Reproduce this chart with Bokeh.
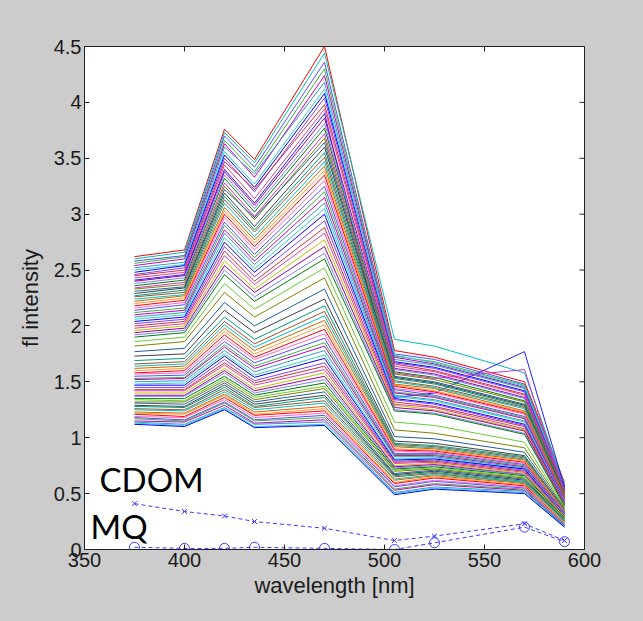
import math
from bokeh.plotting import figure
from bokeh.models import FixedTicker, CustomJSTickFormatter, Range1d, Label
from bokeh.embed import file_html
from bokeh.resources import INLINE

# ---------------- data ----------------
wavelength = [375, 400, 420, 435, 470, 505, 525, 570, 590]

cdom_cross = [0.41, 0.34, 0.30, 0.25, 0.19, 0.08, 0.12, 0.23, 0.08]
mq_circle = [0.02, 0.01, 0.01, 0.02, 0.01, 0.00, 0.06, 0.20, 0.07]

spectra = [
    [2.62, 2.68, 3.76, 3.49, 4.50, 1.78, 1.72, 1.50, 0.60],
    [2.60, 2.66, 3.73, 3.46, 4.44, 1.88, 1.82, 1.58, 0.58],
    [2.58, 2.63, 3.70, 3.42, 4.36, 1.75, 1.70, 1.48, 0.57],
    [2.56, 2.62, 3.66, 3.38, 4.30, 1.73, 1.68, 1.47, 0.57],
    [2.54, 2.60, 3.63, 3.33, 4.24, 1.72, 1.66, 1.45, 0.56],
    [2.52, 2.57, 3.60, 3.36, 4.18, 1.70, 1.65, 1.44, 0.55],
    [2.50, 2.55, 3.56, 3.27, 4.12, 1.74, 1.67, 1.46, 0.55],
    [2.48, 2.54, 3.53, 3.24, 4.08, 1.68, 1.63, 1.42, 0.54],
    [2.46, 2.52, 3.50, 3.20, 4.04, 1.67, 1.62, 1.41, 0.54],
    [2.45, 2.50, 3.47, 3.22, 3.98, 1.66, 1.60, 1.39, 0.53],
    [2.43, 2.48, 3.44, 3.14, 3.94, 1.64, 1.59, 1.38, 0.53],
    [2.41, 2.46, 3.40, 3.10, 3.90, 1.36, 1.40, 1.77, 0.56],
    [2.40, 2.45, 3.38, 3.08, 3.86, 1.62, 1.57, 1.36, 0.52],
    [2.38, 2.43, 3.35, 3.05, 3.81, 1.61, 1.56, 1.35, 0.51],
    [2.36, 2.41, 3.32, 3.02, 3.77, 1.59, 1.54, 1.33, 0.51],
    [2.34, 2.39, 3.28, 2.98, 3.72, 1.58, 1.53, 1.61, 0.50],
    [2.33, 2.37, 3.25, 2.95, 3.68, 1.57, 1.52, 1.32, 0.50],
    [2.31, 2.35, 3.22, 2.97, 3.64, 1.55, 1.50, 1.30, 0.49],
    [2.29, 2.34, 3.19, 2.89, 3.60, 1.54, 1.49, 1.29, 0.49],
    [2.27, 2.32, 3.16, 2.86, 3.55, 1.53, 1.48, 1.28, 0.48],
    [2.26, 2.30, 3.13, 2.84, 3.51, 1.51, 1.46, 1.27, 0.48],
    [2.24, 2.28, 3.10, 2.80, 3.47, 1.50, 1.45, 1.26, 0.47],
    [2.22, 2.27, 3.06, 2.77, 3.43, 1.48, 1.44, 1.24, 0.47],
    [2.20, 2.25, 3.03, 2.74, 3.39, 1.47, 1.42, 1.23, 0.46],
    [2.18, 2.23, 3.00, 2.71, 3.35, 1.46, 1.41, 1.22, 0.46],
    [2.16, 2.21, 2.97, 2.68, 3.30, 1.44, 1.40, 1.21, 0.45],
    [2.14, 2.19, 2.93, 2.64, 3.25, 1.43, 1.38, 1.19, 0.45],
    [2.12, 2.16, 2.90, 2.61, 3.20, 1.41, 1.37, 1.18, 0.44],
    [2.10, 2.14, 2.86, 2.58, 3.15, 1.40, 1.36, 1.17, 0.44],
    [2.08, 2.12, 2.83, 2.55, 3.10, 1.38, 1.34, 1.15, 0.43],
    [2.06, 2.10, 2.79, 2.51, 3.05, 1.37, 1.33, 1.14, 0.43],
    [2.04, 2.08, 2.75, 2.48, 3.00, 1.35, 1.31, 1.12, 0.42],
    [2.02, 2.06, 2.71, 2.44, 2.94, 1.34, 1.30, 1.11, 0.42],
    [2.00, 2.04, 2.67, 2.40, 2.88, 1.32, 1.28, 1.10, 0.41],
    [1.98, 2.02, 2.63, 2.37, 2.83, 1.30, 1.27, 1.08, 0.41],
    [1.96, 2.00, 2.58, 2.33, 2.77, 1.29, 1.25, 1.07, 0.40],
    [1.94, 1.98, 2.54, 2.30, 2.71, 1.27, 1.24, 1.06, 0.40],
    [1.92, 1.96, 2.50, 2.26, 2.65, 1.25, 1.22, 1.04, 0.39],
    [1.90, 1.94, 2.46, 2.22, 2.60, 1.24, 1.21, 1.03, 0.39],
    [1.86, 1.90, 2.38, 2.15, 2.52, 1.14, 1.11, 0.96, 0.38],
    [1.82, 1.86, 2.30, 2.08, 2.43, 1.07, 1.04, 0.91, 0.37],
    [1.77, 1.80, 2.21, 2.00, 2.33, 1.01, 0.99, 0.87, 0.36],
    [1.73, 1.75, 2.14, 1.94, 2.24, 0.97, 0.95, 0.84, 0.35],
    [1.69, 1.71, 2.08, 1.88, 2.18, 0.95, 0.93, 0.83, 0.35],
    [1.66, 1.68, 2.04, 1.84, 2.13, 0.94, 0.92, 0.82, 0.35],
    [1.64, 1.66, 2.01, 1.81, 2.09, 0.93, 0.91, 0.81, 0.34],
    [1.62, 1.64, 1.98, 1.78, 2.05, 0.92, 0.90, 0.80, 0.34],
    [1.60, 1.62, 1.95, 1.75, 2.01, 0.90, 0.89, 0.79, 0.34],
    [1.58, 1.60, 1.92, 1.72, 1.97, 0.89, 0.88, 0.78, 0.33],
    [1.57, 1.58, 1.89, 1.70, 1.93, 0.88, 0.87, 0.77, 0.33],
    [1.55, 1.56, 1.86, 1.67, 1.89, 0.86, 0.86, 0.76, 0.33],
    [1.53, 1.54, 1.83, 1.64, 1.85, 0.85, 0.85, 0.75, 0.32],
    [1.52, 1.53, 1.81, 1.62, 1.82, 0.84, 0.84, 0.74, 0.32],
    [1.50, 1.51, 1.78, 1.59, 1.78, 0.83, 0.83, 0.73, 0.31],
    [1.48, 1.49, 1.75, 1.56, 1.74, 0.81, 0.82, 0.72, 0.31],
    [1.47, 1.47, 1.73, 1.54, 1.71, 0.80, 0.81, 0.72, 0.30],
    [1.45, 1.45, 1.70, 1.51, 1.67, 0.79, 0.80, 0.71, 0.30],
    [1.43, 1.43, 1.67, 1.49, 1.64, 0.78, 0.79, 0.70, 0.30],
    [1.42, 1.42, 1.65, 1.47, 1.61, 0.77, 0.78, 0.69, 0.29],
    [1.40, 1.40, 1.62, 1.44, 1.58, 0.75, 0.77, 0.68, 0.29],
    [1.38, 1.38, 1.60, 1.42, 1.55, 0.74, 0.76, 0.67, 0.28],
    [1.37, 1.37, 1.58, 1.40, 1.52, 0.73, 0.75, 0.67, 0.28],
    [1.35, 1.35, 1.55, 1.38, 1.49, 0.72, 0.74, 0.66, 0.28],
    [1.34, 1.33, 1.53, 1.36, 1.46, 0.71, 0.73, 0.65, 0.27],
    [1.32, 1.32, 1.51, 1.34, 1.44, 0.70, 0.72, 0.64, 0.27],
    [1.31, 1.30, 1.49, 1.32, 1.41, 0.68, 0.71, 0.63, 0.26],
    [1.29, 1.28, 1.47, 1.30, 1.38, 0.67, 0.70, 0.62, 0.26],
    [1.28, 1.27, 1.45, 1.28, 1.36, 0.66, 0.69, 0.61, 0.26],
    [1.26, 1.25, 1.43, 1.27, 1.33, 0.65, 0.68, 0.60, 0.25],
    [1.25, 1.24, 1.41, 1.25, 1.31, 0.63, 0.67, 0.60, 0.25],
    [1.23, 1.22, 1.39, 1.23, 1.28, 0.62, 0.66, 0.59, 0.24],
    [1.22, 1.21, 1.38, 1.21, 1.26, 0.60, 0.65, 0.58, 0.24],
    [1.21, 1.19, 1.36, 1.20, 1.24, 0.59, 0.64, 0.57, 0.23],
    [1.19, 1.18, 1.34, 1.18, 1.22, 0.57, 0.62, 0.56, 0.23],
    [1.18, 1.16, 1.32, 1.16, 1.20, 0.56, 0.61, 0.55, 0.22],
    [1.17, 1.15, 1.31, 1.15, 1.18, 0.54, 0.59, 0.54, 0.22],
    [1.15, 1.14, 1.29, 1.13, 1.16, 0.53, 0.58, 0.53, 0.21],
    [1.14, 1.12, 1.27, 1.12, 1.14, 0.51, 0.56, 0.52, 0.21],
    [1.13, 1.11, 1.26, 1.10, 1.12, 0.50, 0.55, 0.51, 0.20],
    [1.12, 1.10, 1.25, 1.09, 1.11, 0.49, 0.54, 0.50, 0.20],
]

x_ticks = [350, 400, 450, 500, 550, 600]
y_ticks = [0, 0.5, 1, 1.5, 2, 2.5, 3, 3.5, 4, 4.5]

# ---------------- style ----------------
palette = ["#ff0000", "#0000ff", "#008000", "#00bfbf", "#bf00bf", "#bfbf00",
           "#404040", "#ff66cc", "#8040ff", "#66cc33", "#cc6600", "#3399cc",
           "#990099", "#00a080", "#5050ff", "#cc3333", "#808000", "#ff9933",
           "#33cccc", "#7f7fff", "#a0522d", "#40b040", "#e040a0", "#2060a0"]
colors = [palette[(i * 7) % len(palette)] for i in range(len(spectra))]
colors[1] = "#00bfbf"    # cyan line on top at 505-525
colors[11] = "#2020ff"   # blue line peaking at 570
colors[15] = "#cc33cc"   # magenta line peaking at 570

X0, X1, Y0, Y1 = 350, 600, 0, 4.5
p = figure(width=627, height=605, output_backend="svg", toolbar_location=None,
           x_range=Range1d(X0, X1), y_range=Range1d(Y0, Y1),
           min_border_left=84, min_border_right=43, min_border_top=46,
           min_border_bottom=56, background_fill_color="white",
           border_fill_color="#cccccc", outline_line_color="#222222")
p.grid.visible = False

p.multi_line(xs=[wavelength] * len(spectra), ys=spectra, line_color=colors,
             line_width=1)

blue = "#3a3aff"
p.line(wavelength, cdom_cross, line_color=blue, line_dash="4 3", line_width=1)
p.scatter(wavelength, cdom_cross, marker="x", size=7, line_color=blue)
p.line(wavelength, mq_circle, line_color=blue, line_dash="4 3", line_width=1)
p.scatter(wavelength, mq_circle, marker="circle", size=10, line_color=blue,
          fill_color=None)

# inner ticks on the top and right edges of the box
p.scatter(x_ticks, [Y1] * len(x_ticks), marker="dash", angle=math.pi / 2,
          size=10, line_color="#222222")
p.scatter([X1] * len(y_ticks), y_ticks, marker="dash", size=10,
          line_color="#222222")

fmt = CustomJSTickFormatter(code="return String(Math.round(tick*10)/10)")

for ax in (p.xaxis[0], p.yaxis[0]):
    ax.axis_line_color = "#222222"
    ax.major_tick_line_color = "#222222"
    ax.major_tick_in = 5
    ax.major_tick_out = 0
    ax.minor_tick_line_color = None
    ax.major_label_text_font = "Liberation Sans"
    ax.major_label_text_font_size = "20px"
    ax.major_label_text_color = "#1a1a1a"
    ax.axis_label_text_font = "Liberation Sans"
    ax.axis_label_text_font_size = "22px"
    ax.axis_label_text_font_style = "normal"
    ax.axis_label_text_color = "#1a1a1a"
    ax.formatter = fmt

p.xaxis.ticker = FixedTicker(ticks=x_ticks)
p.yaxis.ticker = FixedTicker(ticks=y_ticks)
p.xaxis.axis_label = "wavelength [nm]"
p.yaxis.axis_label = "fl intensity"
p.xaxis.major_label_standoff = 3
p.yaxis.major_label_standoff = 3
p.xaxis.axis_label_standoff = 3
p.yaxis.axis_label_standoff = 8

p.add_layout(Label(x=357.5, y=0.63, text="CDOM", text_font="Lato",
                   text_font_size="33px", text_color="black",
                   text_baseline="alphabetic"))
p.add_layout(Label(x=353.0, y=0.21, text="MQ", text_font="Lato",
                   text_font_size="33px", text_color="black",
                   text_baseline="alphabetic"))

html = file_html(p, INLINE)
html = html.replace("<head>", "<head><style>body{background:#cccccc;}</style>", 1)
open("out.html", "w").write(html)
